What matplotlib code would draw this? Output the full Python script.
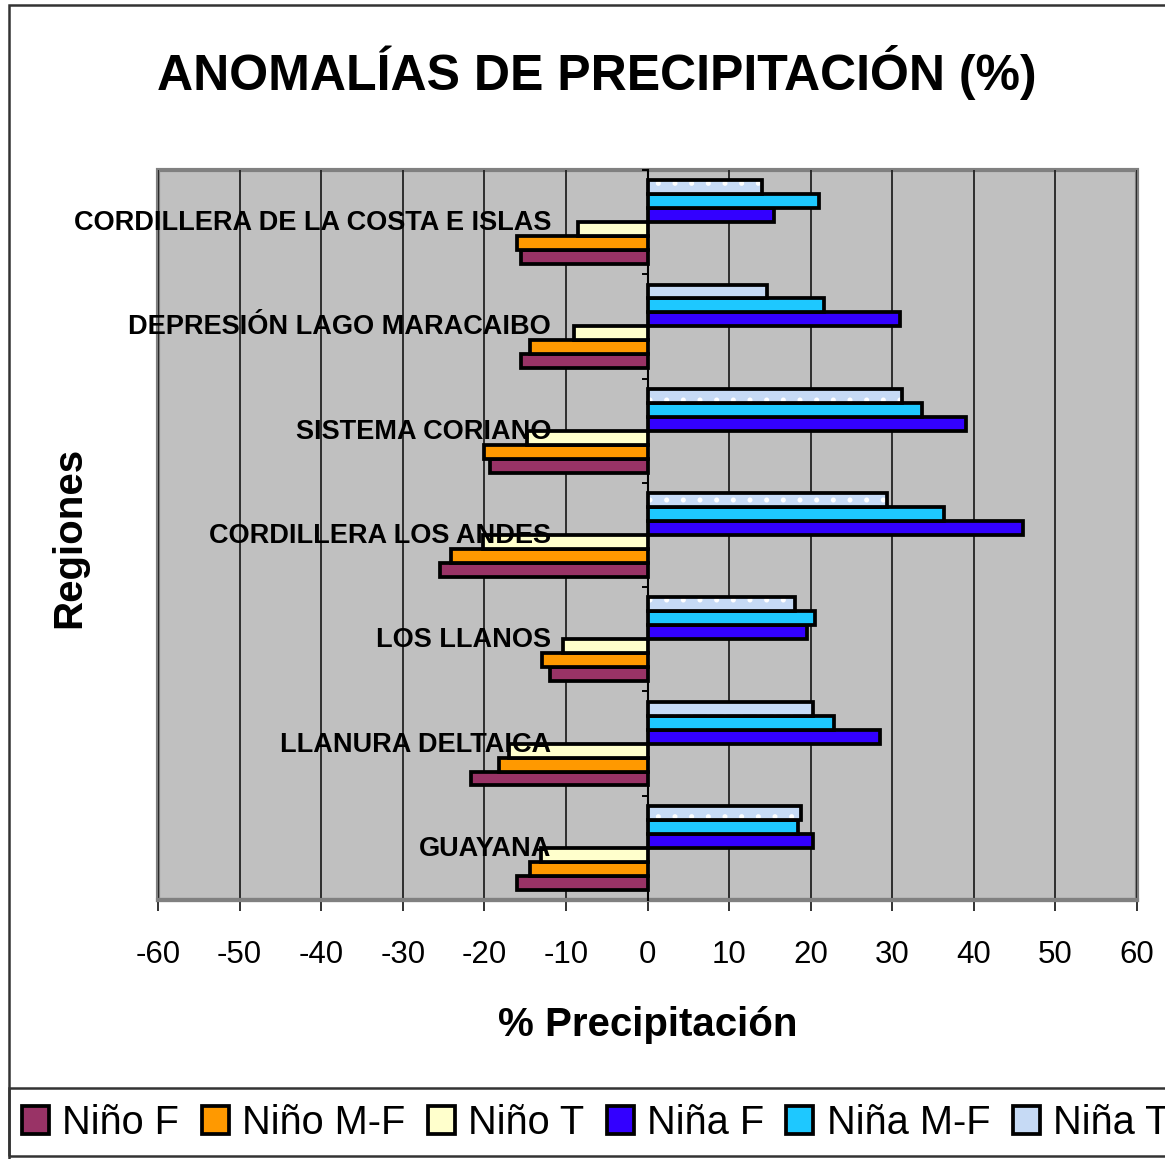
import matplotlib.pyplot as plt
import matplotlib.patches as mpatches
import numpy as np

plt.rcParams['font.family'] = ['Liberation Sans', 'DejaVu Sans']
plt.rcParams['axes.unicode_minus'] = False
plt.rcParams['hatch.linewidth'] = 1.2

regions = ['CORDILLERA DE LA COSTA E ISLAS', 'DEPRESIÓN LAGO MARACAIBO',
           'SISTEMA CORIANO', 'CORDILLERA LOS ANDES', 'LOS LLANOS',
           'LLANURA DELTAICA', 'GUAYANA']
series = ['Niño F', 'Niño M-F', 'Niño T', 'Niña F', 'Niña M-F', 'Niña T']
nino_f = [-15.5, -15.5, -19.3, -25.4, -12.0, -21.6, -16.0]
nino_mf = [-16.0, -14.4, -20.1, -24.1, -12.9, -18.2, -14.4]
nino_t = [-8.5, -9.0, -14.8, -20.2, -10.3, -17.0, -13.1]
nina_f = [15.5, 31.0, 39.0, 46.0, 19.6, 28.5, 20.3]
nina_mf = [21.0, 21.6, 33.7, 36.3, 20.5, 22.9, 18.4]
nina_t = [14.0, 14.7, 31.2, 29.3, 18.1, 20.3, 18.8]
values = [nino_f, nino_mf, nino_t, nina_f, nina_mf, nina_t]
colors = ['#993366', '#FF9900', '#FFFFCC', '#3300FF', '#1EC8FF', '#C6DAF5']

fig = plt.figure(figsize=(11.65, 11.59), dpi=100)
ax = fig.add_axes([158/1165, 259/1159, 979/1165, 730/1159])
ax.set_facecolor('#C0C0C0')
ax.patch.set_edgecolor('#808080')
ax.patch.set_linewidth(3)

n = len(regions)
ypos = np.arange(n)[::-1]
h = 0.134
lw = 2.7
handles = []
for j, (name, vals, col) in enumerate(zip(series, values, colors)):
    y = ypos + (j - 2.5) * h
    if name == 'Niña T':
        ax.barh(y, vals, height=h, color=col, edgecolor='white', hatch='.',
                linewidth=0, zorder=3)
        ax.barh(y, vals, height=h, fill=False, edgecolor='black',
                linewidth=lw, zorder=4)
        handles.append(mpatches.Patch(facecolor=col, edgecolor='black',
                                      linewidth=lw, label=name))
    else:
        b = ax.barh(y, vals, height=h, color=col, edgecolor='black',
                    linewidth=lw, zorder=3, label=name)
        handles.append(b)

ax.set_xlim(-60, 60)
ax.set_ylim(-0.5, n - 0.5)
ax.set_xticks(range(-60, 61, 10))
ax.xaxis.grid(True, color='#222222', linewidth=1.3, zorder=1)
ax.set_axisbelow(True)
ax.tick_params(axis='x', direction='out', length=8, width=1.4, pad=21,
               labelsize=22.5, color='#333333')

ax.spines['top'].set_visible(False)
ax.spines['right'].set_visible(False)
ax.spines['bottom'].set_color('#808080')
ax.spines['bottom'].set_linewidth(3)
ax.spines['left'].set_position(('data', 0))
ax.spines['left'].set_color('black')
ax.spines['left'].set_linewidth(1.5)
ax.spines['left'].set_zorder(5)
ax.set_yticks(np.arange(-0.5, n, 1.0))
ax.set_yticklabels([])
ax.tick_params(axis='y', direction='out', length=4, width=1.4)

for yp, lab in zip(ypos, regions):
    ax.text(-11.8, yp - 0.01, lab, ha='right', va='center', fontsize=19.5,
            fontweight='bold', zorder=6)

ax.set_xlabel('% Precipitación', fontsize=29, fontweight='bold', labelpad=26)
fig.text(69/1165, 1 - 537/1159, 'Regiones', rotation=90, ha='center',
         va='center', fontsize=29, fontweight='bold')
fig.text(597/1165, 1 - 73/1159, 'ANOMALÍAS DE PRECIPITACIÓN (%)', ha='center',
         va='center', fontsize=36, fontweight='bold')

# chart border and legend box
fig.patches.append(mpatches.Rectangle((9/1165, -0.1), 1.2, 1 - 5/1159 + 0.1,
                                      transform=fig.transFigure, fill=False,
                                      edgecolor='#333333', linewidth=1.8))
fig.patches.append(mpatches.Rectangle((9/1165, 1 - 1156/1159), 1.2,
                                      (1156 - 1088)/1159,
                                      transform=fig.transFigure, fill=False,
                                      edgecolor='#333333', linewidth=1.8))

fig.legend(handles=handles, loc='center left',
           bbox_to_anchor=(22/1165, 1 - 1123/1159), ncol=6, frameon=False,
           fontsize=28.6, handlelength=0.68, handleheight=0.7,
           handletextpad=0.33, columnspacing=0.57, borderpad=0,
           borderaxespad=0)

fig.savefig('out.png', dpi=100)
